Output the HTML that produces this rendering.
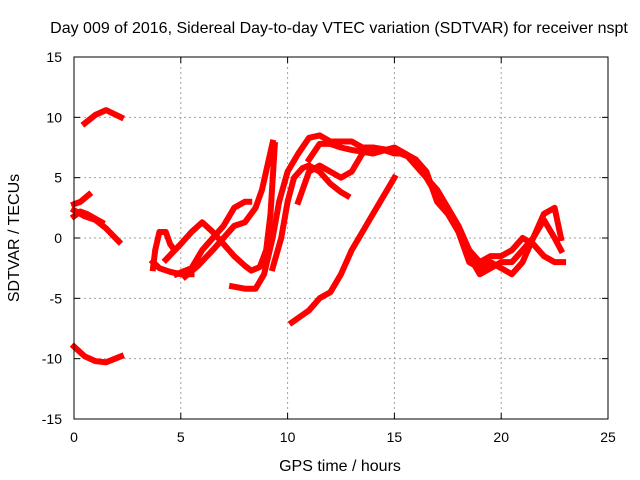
<!DOCTYPE html>
<html><head><meta charset="utf-8"><style>
body{margin:0;background:#fff}
svg{display:block;font-family:"Liberation Sans",sans-serif}
</style></head><body>
<svg id="chart" width="640" height="480" xmlns="http://www.w3.org/2000/svg">
<rect width="640" height="480" fill="#fff"/>
<text x="339" y="33" font-size="16" text-anchor="middle">Day 009 of 2016, Sidereal Day-to-day VTEC variation (SDTVAR) for receiver nspt</text>
<text x="340" y="471" font-size="16" text-anchor="middle">GPS time / hours</text>
<text transform="translate(19,238) rotate(-90)" font-size="16" text-anchor="middle">SDTVAR / TECUs</text>
<g id="grid"></g><g id="series"></g><g id="axes"></g>
</svg>
<script>
const xTicks=[0,5,10,15,20,25];
const yTicks=[-15,-10,-5,0,5,10,15];
const trackA_x=[0.5,1,1.5,2.2], trackA_y=[9.5,10.2,10.6,10.0];
const trackB_x=[0,0.5,1,1.5,2.2], trackB_y=[-9,-9.8,-10.2,-10.3,-9.8];
const trackC_x=[0,0.3,0.7], trackC_y=[2.8,3.0,3.6];
const trackD_x=[0,0.5,1,1.5,2.1], trackD_y=[2.3,1.8,1.5,0.8,-0.3];
const trackE_x=[0,0.3,0.6,0.9,1.3], trackE_y=[1.8,2.2,2.0,1.7,1.3];
const trackF_x=[3.7,3.8,4.0,4.3,4.5,4.7], trackF_y=[-2.5,-1,0.5,0.5,-0.5,-1];
const trackG_x=[3.7,4.0,4.5,5,5.5], trackG_y=[-2,-2.5,-2.8,-3,-3];
const trackH_x=[4.3,5,5.5,6,6.5,7,7.5,8,8.3,8.7,9,9.2,9.4], trackH_y=[-1.8,-0.5,0.5,1.3,0.5,-0.5,-1.5,-2.3,-2.7,-2.4,-1,2,7.7];
const trackI_x=[4.8,5.5,6,6.5,7,7.5,8,8.2], trackI_y=[-3,-2.5,-1,0,1,2.5,3,3];
const trackJ_x=[5.2,5.8,6.5,7,7.5,8,8.5,8.8,9.3], trackJ_y=[-3.2,-2.3,-1,0,1,1.3,2.5,4,7.9];
const trackK_x=[7.4,8,8.5,8.9,9.3,9.6,10,10.5,11,11.5,12,12.5,13,13.5,14,14.5,15,15.5,16,16.5,17,17.5,18,18.5,19,19.5,20,20.5,21,21.5,22,22.5,22.8], trackK_y=[-4,-4.2,-4.2,-3,0,3,5.5,7,8.3,8.5,8,8,8,7.5,7.5,7.3,7,7,6,5,4,2.5,0.5,-1.5,-3,-2.5,-2,-2,-1,0,1.5,0,-1];
const trackL_x=[9.3,9.7,10,10.3,10.7,11,11.5,12,12.5,12.8], trackL_y=[-2.5,0,3,5,5.8,6,5.5,4.5,3.8,3.5];
const trackM_x=[10.5,11,11.5,12,12.5,13,13.5,14,15,16,16.5,17,17.5,18,18.5,19,19.5,20,20.5,21,21.5,22,22.5,22.9], trackM_y=[3,5.5,6,5.5,5,5.5,7,7.5,7.2,6.5,5,3.5,2.5,1,-1,-2,-1.5,-1.5,-1,0,-0.5,-1.5,-2,-2];
const trackN_x=[11,11.5,12,12.5,13,14,15,15.5,16,16.5,17,17.5,18,18.5,19,19.5,20,20.5,21,21.5,22,22.5,22.8], trackN_y=[6.5,7.8,7.8,7.5,7.3,7,7.5,7,6.5,5.5,3,2,0.5,-2,-2.5,-2,-2.5,-3,-2,0,2,2.5,0];
const trackO_x=[10.2,11,11.5,12,12.5,13,13.5,14,14.5,15], trackO_y=[-7,-6,-5,-4.5,-3,-1,0.5,2,3.5,5];
const tracks=[[trackA_x,trackA_y],[trackB_x,trackB_y],[trackC_x,trackC_y],[trackD_x,trackD_y],[trackE_x,trackE_y],[trackF_x,trackF_y],[trackG_x,trackG_y],[trackH_x,trackH_y],[trackI_x,trackI_y],[trackJ_x,trackJ_y],[trackK_x,trackK_y],[trackL_x,trackL_y],[trackM_x,trackM_y],[trackN_x,trackN_y],[trackO_x,trackO_y]];
const L=74,R=608,T=57,B=419;
const sx=v=>L+(v-0)/(25-0)*(R-L);
const sy=v=>B-(v+15)/30*(B-T);
const NS="http://www.w3.org/2000/svg";
const grid=document.getElementById('grid'),axes=document.getElementById('axes'),ser=document.getElementById('series');
function mk(tag,at,parent){const e=document.createElementNS(NS,tag);for(const k in at)e.setAttribute(k,at[k]);parent.appendChild(e);return e;}
xTicks.forEach(t=>{const x=sx(t);
 if(t>0&&t<25){const g=mk('line',{x1:x,x2:x,y1:T,y2:B,stroke:'#a0a0a0','stroke-dasharray':'2,3'},grid);
 
 }
 mk('line',{x1:x,x2:x,y1:B,y2:B-6,stroke:'#000'},axes);mk('line',{x1:x,x2:x,y1:T,y2:T+6,stroke:'#000'},axes);
 const tx=mk('text',{x:x,y:B+23,'font-size':14,'text-anchor':'middle'},axes);tx.textContent=t;
 
 });
yTicks.forEach(t=>{const y=sy(t);
 if(t>-15&&t<15){const g=mk('line',{x1:L,x2:R,y1:y,y2:y,stroke:'#a0a0a0','stroke-dasharray':'2,3'},grid);
 
 }
 mk('line',{x1:L,x2:L+6,y1:y,y2:y,stroke:'#000'},axes);mk('line',{x1:R,x2:R-6,y1:y,y2:y,stroke:'#000'},axes);
 const tx=mk('text',{x:L-12,y:y+5,'font-size':14,'text-anchor':'end'},axes);tx.textContent=t;
 
 });
const fr=mk('rect',{x:L,y:T,width:R-L,height:B-T,fill:'none',stroke:'#000'},axes);


tracks.forEach(([xs,ys])=>{const pts=xs.map((x,i)=>sx(x).toFixed(1)+','+sy(ys[i]).toFixed(1)).join(' ');
 const p=mk('polyline',{points:pts,fill:'none',stroke:'#ff0000','stroke-width':6,'stroke-linejoin':'round','stroke-linecap':'square'},ser);
 
 });
</script>
</body></html>
